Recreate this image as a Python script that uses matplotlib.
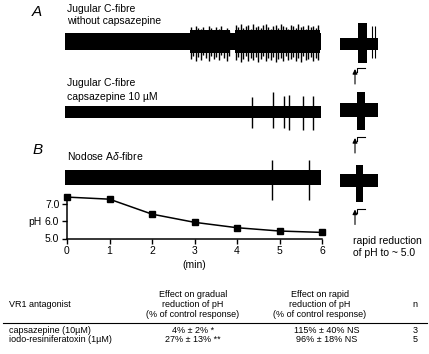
import matplotlib
matplotlib.use('Agg')
import matplotlib.pyplot as plt

plt.rcParams['font.family'] = ['Liberation Sans', 'DejaVu Sans']
plt.rcParams['mathtext.fontset'] = 'custom'
plt.rcParams['mathtext.it'] = 'Liberation Sans:italic'
plt.rcParams['mathtext.rm'] = 'Liberation Sans'

# ---------------- data ----------------
# pH during gradual acidification (min)
time_min = [0, 1, 2, 3, 4, 5, 6]
ph_values = [7.38, 7.26, 6.40, 5.93, 5.62, 5.43, 5.35]
ph_ticks = [5.0, 6.0, 7.0]

# Trace 1: jugular C-fibre without capsazepine (spike times in min, amplitudes arb. units)
t1_noise = 8.5
t1_burst_core = 11.5
t1_burst_start = [2.90, 3.96]
t1_burst_end = [3.83, 5.95]
t1_spike_t = [2.92, 2.96, 3.04, 3.08, 3.15, 3.20, 3.27, 3.34, 3.39, 3.46, 3.51, 3.58,
              3.62, 3.69, 3.76, 3.81,
              3.98, 4.02, 4.09, 4.14, 4.21, 4.26, 4.33, 4.38, 4.45, 4.49, 4.56, 4.61,
              4.68, 4.73, 4.80, 4.85, 4.92, 4.96, 5.04, 5.08, 5.15, 5.20, 5.27, 5.32,
              5.39, 5.44, 5.51, 5.55, 5.62, 5.67, 5.74, 5.79, 5.86, 5.91]
t1_spike_up = [15, 12, 16, 14, 13, 15, 11, 16, 14, 12, 15, 13, 16, 12, 14, 11,
               17, 15, 18, 14, 16, 17, 13, 18, 15, 16, 14, 17, 18, 15, 13, 16, 17,
               14, 18, 16, 15, 13, 17, 16, 14, 18, 15, 16, 13, 17, 15, 16, 14, 17]
t1_spike_down = [17, 14, 19, 15, 18, 13, 16, 19, 14, 17, 15, 18, 13, 16, 19, 14,
                 18, 15, 20, 17, 14, 19, 16, 18, 15, 20, 17, 14, 19, 16, 18, 15, 20,
                 17, 16, 19, 14, 18, 17, 15, 19, 16, 20, 14, 18, 17, 15, 19, 16, 18]

# Trace 2: jugular C-fibre, capsazepine 10 uM
t2_noise = 6.0
t2_spike_t = [4.35, 4.85, 5.11, 5.22, 5.55, 5.79]
t2_spike_up = [15, 20, 16, 17, 16, 16]
t2_spike_down = [16, 16, 16, 18, 18, 18]

# Trace 3: nodose A-delta fibre
t3_noise = 7.5
t3_spike_t = [4.82, 5.69]
t3_spike_up = [17.5, 17.5]
t3_spike_down = [22.5, 22.5]

# Rapid pH reduction responses (time in s): noise, burst start/end, burst up/down
rapid_noise = [6.0, 7.0, 6.5]
rapid_burst_start = [18, 17, 16]
rapid_burst_end = [27, 25, 23]
rapid_burst_up = [21, 18, 16]
rapid_burst_down = [19, 20, 21.5]
rapid1_spike_t = [32, 35]
rapid1_spike_up = [18, 18]
rapid1_spike_down = [14, 14]

# Table
table_header_col = ["VR1 antagonist",
                    "Effect on gradual\nreduction of pH\n(% of control response)",
                    "Effect on rapid\nreduction of pH\n(% of control response)",
                    "n"]
table_antagonists = ["capsazepine (10µM)", "iodo-resiniferatoxin (1µM)"]
table_gradual = ["4% ± 2% *", "27% ± 13% **"]
table_rapid = ["115% ± 40% NS", "96% ± 18% NS"]
table_n = ["3", "5"]

# ---------------- figure ----------------
W, H = 429, 354
fig = plt.figure(figsize=(W / 100, H / 100), dpi=100)


def px_axes(x0, x1, y0, y1):
    return fig.add_axes([x0 / W, 1 - y1 / H, (x1 - x0) / W, (y1 - y0) / H])


LX0, LX1 = 67, 322
RX0, RX1 = 340, 378


def left_trace(yc, noise, st, su, sd):
    ax = px_axes(LX0, LX1, yc - 25, yc + 25)
    ax.set_xlim(0, 6)
    ax.set_ylim(-25, 25)
    ax.axis('off')
    ax.fill_between([-0.05, 5.98], -noise, noise, color='black', lw=0, clip_on=False)
    ax.vlines(st, [-d for d in sd], su, color='black', lw=1.0, clip_on=False)
    return ax


def right_trace(yc, i):
    ax = px_axes(RX0, RX1, yc - 25, yc + 25)
    ax.set_xlim(0, 38)
    ax.set_ylim(-25, 25)
    ax.axis('off')
    n = rapid_noise[i]
    ax.fill_between([0, 38], -n, n, color='black', lw=0)
    ax.fill_between([rapid_burst_start[i], rapid_burst_end[i]],
                    -rapid_burst_down[i], rapid_burst_up[i], color='black', lw=0)
    return ax


a1 = left_trace(41.5, t1_noise, t1_spike_t, t1_spike_up, t1_spike_down)
for b0, b1 in zip(t1_burst_start, t1_burst_end):
    a1.fill_between([b0, b1], -t1_burst_core, t1_burst_core, color='black', lw=0)
left_trace(112, t2_noise, t2_spike_t, t2_spike_up, t2_spike_down)
left_trace(177.5, t3_noise, t3_spike_t, t3_spike_up, t3_spike_down)

r1 = right_trace(44, 0)
r1.vlines(rapid1_spike_t, [-d for d in rapid1_spike_down], rapid1_spike_up,
          color='black', lw=0.8)
right_trace(110, 1)
right_trace(180.5, 2)

# pH plot
axp = px_axes(LX0, LX1, 195, 238.5)
axp.plot(time_min, ph_values, color='black', lw=1.1, marker='s', ms=4.5,
         clip_on=False, zorder=3)
axp.set_xlim(0, 6)
axp.set_ylim(5.0, 7.5)
axp.set_xticks(time_min)
axp.set_xticklabels([str(t) for t in time_min])
axp.set_yticks(ph_ticks)
axp.set_yticklabels([f"{v:.1f}" for v in ph_ticks])
for s in ['top', 'right']:
    axp.spines[s].set_visible(False)
for s in ['left', 'bottom']:
    axp.spines[s].set_linewidth(1.1)
axp.tick_params(axis='both', direction='out', length=3.5, width=1.0, labelsize=7.5)
axp.tick_params(axis='x', pad=2.0)
axp.tick_params(axis='y', pad=2)
axp.set_xlabel("(min)", fontsize=7.5, labelpad=3.0)
axp.patch.set_alpha(0)

# overlay for labels, arrows, table
ov = fig.add_axes([0, 0, 1, 1], zorder=-1)
ov.set_xlim(0, W)
ov.set_ylim(H, 0)
ov.axis('off')

fs_l = 7.5
ov.text(37, 12.5, "A", fontsize=11, style='italic', ha='center', va='center')
ov.text(38, 150, "B", fontsize=11, style='italic', ha='center', va='center')
ov.text(67, 9.5, "Jugular C-fibre", fontsize=fs_l, ha='left', va='center')
ov.text(67, 21.5, "without capsazepine", fontsize=fs_l, ha='left', va='center')
ov.text(67, 83, "Jugular C-fibre", fontsize=fs_l, ha='left', va='center')
ov.text(67, 96.5, "capsazepine 10 µM", fontsize=fs_l, ha='left', va='center')
ov.text(67, 156, r"Nodose A$\delta$-fibre", fontsize=fs_l, ha='left', va='center')
ov.text(35, 222, "pH", fontsize=7.5, ha='center', va='center')
ov.text(353, 241, "rapid reduction", fontsize=fs_l, ha='left', va='center')
ov.text(353, 252.5, "of pH to ~ 5.0", fontsize=fs_l, ha='left', va='center')

for ytop in [68, 137, 208.5]:
    ov.annotate('', xy=(355, ytop + 1), xytext=(355, ytop + 16),
                arrowprops=dict(arrowstyle='-|>', lw=0.8, color='black',
                                mutation_scale=7, shrinkA=0, shrinkB=0))
    ov.plot([356.5, 356.5, 365], [ytop + 4, ytop, ytop], color='black', lw=0.8)

# table
fs_t = 6.5
ov.text(9, 304.5, table_header_col[0], fontsize=fs_t, ha='left', va='center')
ov.text(193, 304.5, table_header_col[1], fontsize=fs_t, ha='center', va='center',
        linespacing=1.15)
ov.text(320, 304.5, table_header_col[2], fontsize=fs_t, ha='center', va='center',
        linespacing=1.15)
ov.text(415, 304.5, table_header_col[3], fontsize=fs_t, ha='center', va='center')
ov.plot([3, 427], [322.5, 322.5], color='black', lw=0.8)
row_y = [330.5, 340]
for i in range(len(table_antagonists)):
    ov.text(9, row_y[i], table_antagonists[i], fontsize=fs_t, ha='left', va='center')
    ov.text(193, row_y[i], table_gradual[i], fontsize=fs_t, ha='center', va='center')
    ov.text(327, row_y[i], table_rapid[i], fontsize=fs_t, ha='center', va='center')
    ov.text(415, row_y[i], table_n[i], fontsize=fs_t, ha='center', va='center')

fig.savefig("out.png", dpi=100)
